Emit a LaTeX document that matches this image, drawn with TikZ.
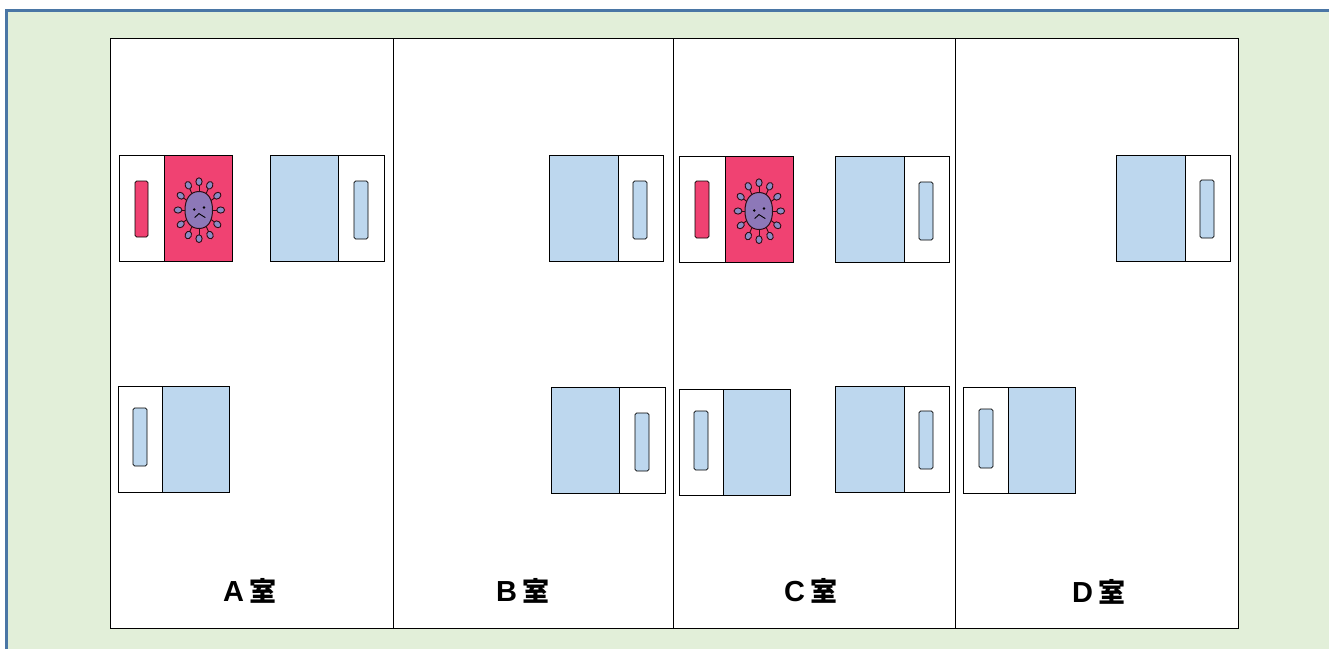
\documentclass[tikz,border=0pt]{standalone}
\usepackage{fontspec}
\newfontfamily\labfont{Noto Sans CJK JP}
\newfontfamily\latfont{Liberation Sans}
\definecolor{panelgreen}{HTML}{E2EFD9}
\definecolor{panelblue}{HTML}{4A76A5}
\definecolor{deskblue}{HTML}{BDD7EE}
\definecolor{deskpink}{HTML}{F04272}
\definecolor{viruspurple}{HTML}{8D78B8}
\definecolor{spikeblue}{HTML}{8A8CC4}
\tikzset{
  x=1pt,y=-1pt,
  room/.style={draw=black,fill=white,line width=0.9pt},
  part/.style={draw=black,line width=0.9pt},
  grip/.style={draw=black,line width=0.8pt,rounded corners=1.6pt},
  roomlabel/.style={font=\bfseries\fontsize{27}{27}\selectfont,text=black,inner sep=0pt,anchor=center},
  viruspart/.style={draw=black!80!deskpink,line width=0.9pt}
}
\newcommand{\labtext}[1]{{\latfont\fontsize{29}{29}\selectfont #1}\kern6pt{\labfont 室}}
\newcommand{\deskL}[9]{%
  \filldraw[part,fill=white] (#1,#4) rectangle (#2,#5);
  \filldraw[part,fill=#6] (#2,#4) rectangle (#3,#5);
  \filldraw[grip,fill=#6] (#7,#9) rectangle (#8,\gripend);
}
\newcommand{\deskR}[9]{%
  \filldraw[part,fill=#6] (#1,#4) rectangle (#2,#5);
  \filldraw[part,fill=white] (#2,#4) rectangle (#3,#5);
  \filldraw[grip,fill=#6] (#7,#9) rectangle (#8,\gripend);
}
\newcommand{\virusat}[2]{%
  \begin{scope}[shift={(#1,#2)}]
    \foreach \dx/\dy in {-10.7/-24.7,0/-28.3,10.7/-24.7,18.3/-14.3,21.7/0,18.3/14.3,11/25,0/28.7,-10.7/25,-18.3/14.3,-21/0,-18.3/-14.3}{
      \draw[viruspart] (0,0) -- (\dx,\dy);
    }
    \foreach \dx/\dy in {-10.7/-24.7,0/-28.3,10.7/-24.7,18.3/-14.3,21.7/0,18.3/14.3,11/25,0/28.7,-10.7/25,-18.3/14.3,-21/0,-18.3/-14.3}{
      \pgfmathsetmacro\spikeang{atan2(-\dy,\dx)}
      \filldraw[viruspart,fill=spikeblue] (\dx,\dy) circle[x radius=3.9,y radius=3.1,rotate=\spikeang];
    }
    \filldraw[viruspart,fill=viruspurple,line width=1pt] (0,-18.5) .. controls (9,-18.5) and (13.5,-11) .. (13.5,0) .. controls (13.5,11) and (9,18.5) .. (0,18.5) .. controls (-9,18.5) and (-14,11) .. (-14,0) .. controls (-14,-11) and (-9,-18.5) .. (0,-18.5) -- cycle;
    \fill[black] (-4.7,-0.5) circle (1.4);
    \fill[black] (5,-2.5) circle (1.4);
    \draw[black,line width=0.9pt] (-4.3,7.5) -- (0,3.6) -- (6.3,7.6);
  \end{scope}
}
\begin{document}
\begin{tikzpicture}
\useasboundingbox (0,0) rectangle (1329,649);
\fill[white] (0,0) rectangle (1329,649);
\fill[panelgreen] (6.5,10.5) rectangle (1329,649);
\draw[draw=panelblue,line width=2.6pt] (6.5,649) -- (6.5,10.5) -- (1329,10.5);

\draw[room] (110,38) rectangle (393,628);
\draw[room] (393,38) rectangle (673,628);
\draw[room] (673,38) rectangle (955,628);
\draw[room] (955,38) rectangle (1238,628);

\def\gripend{237}\deskL{119}{164}{232}{155}{261}{deskpink}{135}{148}{181}
\def\gripend{239}\deskR{270}{338}{384}{155}{261}{deskblue}{354}{368}{181}
\def\gripend{466}\deskL{118}{162}{229}{386}{492}{deskblue}{133}{147}{408}

\def\gripend{239}\deskR{549}{618}{663}{155}{261}{deskblue}{633}{647}{181}
\def\gripend{471}\deskR{551}{619}{665}{387}{493}{deskblue}{635}{649}{413}

\def\gripend{238}\deskL{679}{725}{793}{156}{262}{deskpink}{695}{709}{181}
\def\gripend{240}\deskR{835}{904}{949}{156}{262}{deskblue}{919}{933}{182}
\def\gripend{470}\deskL{679}{723}{790}{389}{495}{deskblue}{694}{708}{411}
\def\gripend{469}\deskR{835}{904}{949}{386}{492}{deskblue}{919}{933}{411}

\def\gripend{238}\deskR{1116}{1185}{1230}{155}{261}{deskblue}{1200}{1214}{180}
\def\gripend{468}\deskL{963}{1008}{1075}{387}{493}{deskblue}{979}{993}{409}

\virusat{199}{210}
\virusat{759}{211}

\node[roomlabel] (labA) at (250,591) {\labtext{A}};
\node[roomlabel] (labB) at (523,591) {\labtext{B}};
\node[roomlabel] (labC) at (811,591) {\labtext{C}};
\node[roomlabel] (labD) at (1099,592) {\labtext{D}};
\end{tikzpicture}
\end{document}
